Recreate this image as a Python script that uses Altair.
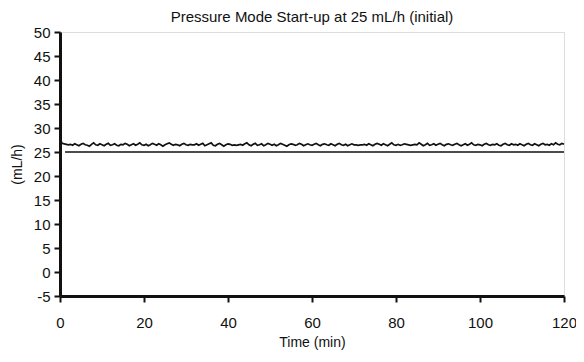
import altair as alt
import pandas as pd
import numpy as np

# Start-up spike
start_time = [0.0, 0.2]
start_flow = [30.6, 27.4]

flow = [
    26.8, 26.7, 26.6, 26.5, 26.6, 26.4, 26.7, 26.5, 26.3, 26.6, 26.8, 26.5, 26.4, 26.2, 26.6, 26.9, 26.5, 26.4, 26.7, 26.5,
    26.3, 26.6, 26.8, 26.4, 26.5, 26.7, 26.4, 26.3, 26.6, 26.5, 26.8, 26.6, 26.3, 26.5, 26.7, 26.4, 26.6, 26.9, 26.5, 26.4,
    26.6, 26.3, 26.5, 26.8, 26.6, 26.4, 26.7, 26.5, 26.2, 26.5, 26.7, 26.9, 26.6, 26.4, 26.6, 26.5, 26.3, 26.6, 26.8, 26.5,
    26.4, 26.6, 26.5, 26.5, 26.7, 26.4, 26.6, 26.8, 26.3, 26.5, 26.7, 26.9, 26.4, 26.3, 26.6, 26.8, 26.5, 26.2, 26.5, 26.7,
    26.6, 26.4, 26.5, 26.4, 26.5, 26.6, 26.4, 26.7, 26.9, 26.5, 26.3, 26.6, 26.8, 26.4, 26.5, 26.7, 26.3, 26.5, 26.8, 26.6,
    26.4, 26.6, 26.3, 26.5, 26.8, 26.6, 26.4, 26.2, 26.5, 26.7, 26.6, 26.4, 26.5, 26.8, 26.6, 26.3, 26.5, 26.7, 26.5, 26.4,
    26.6, 26.8, 26.5, 26.3, 26.6, 26.7, 26.5, 26.4, 26.7, 26.5, 26.3, 26.6, 26.8, 26.5, 26.4, 26.6, 26.3, 26.5, 26.7, 26.5,
    26.5, 26.4, 26.5, 26.5, 26.6, 26.4, 26.7, 26.5, 26.3, 26.6, 26.8, 26.6, 26.4, 26.7, 26.5, 26.3, 26.6, 26.9, 26.5, 26.4,
    26.6, 26.4, 26.5, 26.7, 26.6, 26.5, 26.4, 26.5, 26.6, 26.5, 26.9, 26.6, 26.3, 26.5, 26.8, 26.4, 26.5, 26.7, 26.4, 26.6,
    26.8, 26.5, 26.3, 26.6, 26.7, 26.5, 26.4, 26.6, 26.8, 26.5, 26.3, 26.5, 26.7, 26.4, 26.6, 26.9, 26.5, 26.4, 26.6, 26.5,
    26.3, 26.6, 26.8, 26.5, 26.4, 26.6, 26.5, 26.7, 26.4, 26.3, 26.6, 26.8, 26.5, 26.4, 26.7, 26.5, 26.6, 26.4, 26.7, 26.5,
    26.3, 26.6, 26.8, 26.5, 26.4, 26.7, 26.5, 26.3, 26.6, 26.8, 26.5, 26.6, 26.4, 26.7, 26.5, 26.9, 26.6, 26.5, 26.8, 26.6,
]
sample_times = list(np.arange(1, len(flow) + 1) * 0.5)

# Set-point reference line
ref_time = [1.2, 120.0]
ref_flow = [25.0, 25.0]

x_ticks = [0, 20, 40, 60, 80, 100, 120]
y_ticks = [-5, 0, 5, 10, 15, 20, 25, 30, 35, 40, 45, 50]

meas = pd.DataFrame({"t": start_time + sample_times, "v": start_flow + flow, "s": "measured"})
ref = pd.DataFrame({"t": ref_time, "v": ref_flow, "s": "setpoint"})
data = pd.concat([meas, ref], ignore_index=True)

FONT = "Liberation Sans"

x_enc = alt.X(
    "t:Q",
    scale=alt.Scale(domain=[0, 120], nice=False, zero=False),
    axis=alt.Axis(
        values=x_ticks, title="Time (min)", grid=False,
        domainColor="#111", domainWidth=3, tickColor="#111", tickWidth=2, tickSize=6,
        labelFont=FONT, labelFontSize=15, labelColor="#111", labelPadding=13,
        labelExpr="'' + datum.value", labelOverlap=False,
        titleFont=FONT, titleFontSize=14, titleFontWeight="normal", titleColor="#111", titlePadding=5,
        labelFlush=False,
    ),
)
y_enc = alt.Y(
    "v:Q",
    scale=alt.Scale(domain=[-5, 50], nice=False, zero=False),
    axis=alt.Axis(
        values=y_ticks, title="(mL/h)", grid=False,
        domainColor="#111", domainWidth=3, tickColor="#111", tickWidth=2, tickSize=6,
        labelFont=FONT, labelFontSize=15, labelColor="#111", labelPadding=4,
        labelExpr="'' + datum.value", labelOverlap=False, labelBound=False,
        titleFont=FONT, titleFontSize=14, titleFontWeight="normal", titleColor="#111", titlePadding=9,
        labelFlush=False,
    ),
)

chart = (
    alt.Chart(data)
    .mark_line(color="#111", strokeWidth=1.7)
    .encode(
        x=x_enc,
        y=y_enc,
        detail="s:N",
        strokeWidth=alt.StrokeWidth("s:N", scale=alt.Scale(domain=["measured", "setpoint"], range=[1.7, 2.0]), legend=None),
    )
    .properties(
        width=504,
        height=264,
        title=alt.Title(
            "Pressure Mode Start-up at 25 mL/h (initial)",
            font=FONT, fontSize=15, fontWeight="normal", color="#111", offset=0,
        ),
        autosize=alt.AutoSizeParams(type="none"),
        padding={"left": 52, "top": 24, "right": 12, "bottom": 55},
    )
    .configure_view(stroke="#111", strokeWidth=2.5)
    .configure(background="white")
)

chart.save("out.html", embed_options={"renderer": "svg", "actions": False})
